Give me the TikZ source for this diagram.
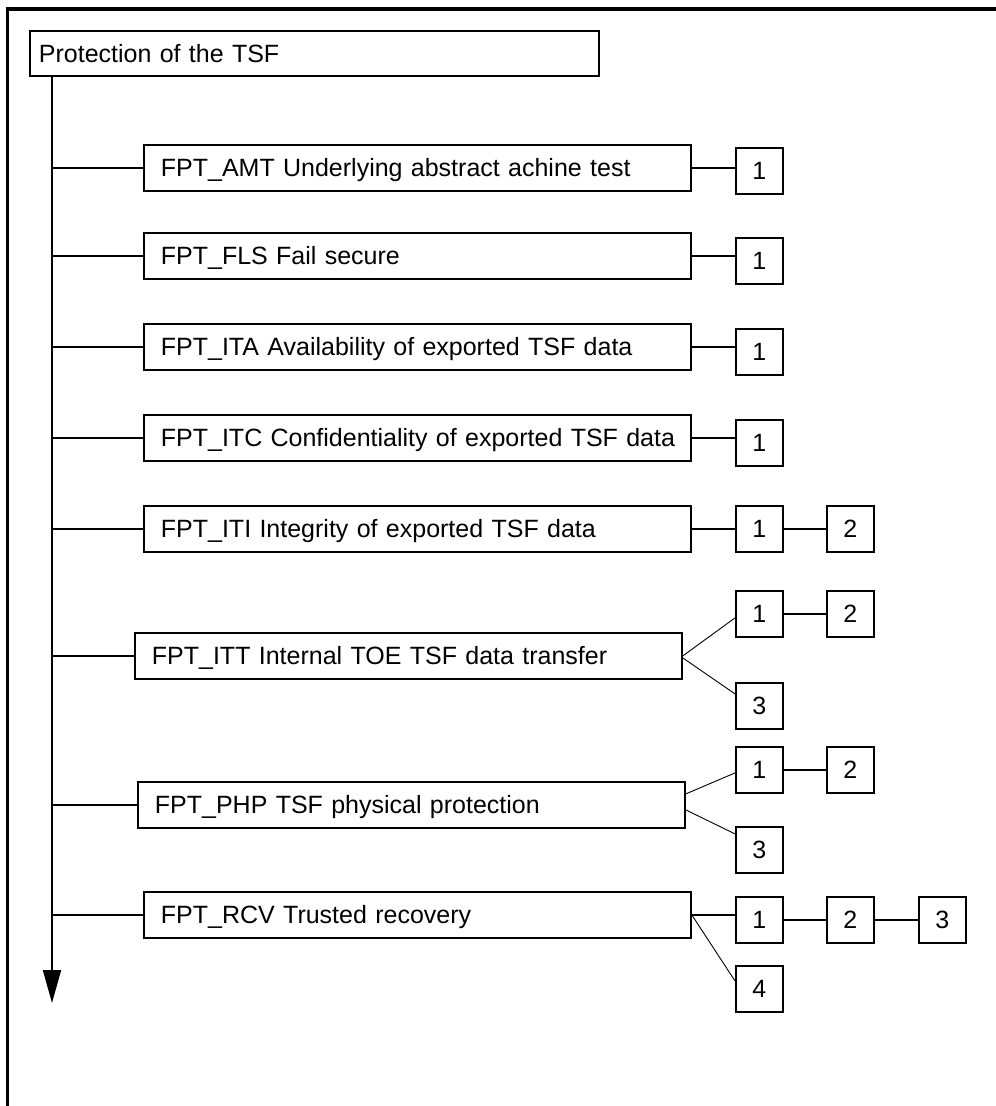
\documentclass[tikz,border=0pt]{standalone}
\usepackage{fontspec}
\setmainfont{Liberation Sans}
\usetikzlibrary{arrows.meta}

\tikzset{
	fam/.style={draw, anchor=north west, line width=1.8pt, minimum height=46pt, text height=18pt, text depth=0pt, text width=513pt, inner xsep=17pt, inner ysep=0pt, align=left},
	num/.style={draw, anchor=north west, line width=1.8pt, minimum width=47pt, minimum height=46pt, text height=18pt, text depth=0pt, inner sep=0pt},
	link/.style={line width=1.8pt},
	slant/.style={line width=0.9pt}
}

\begin{document}
\begin{tikzpicture}[x=1pt, y=-1pt, every node/.style={font=\fontsize{25}{30}\selectfont}]
	\useasboundingbox (0,0) rectangle (996,1106);
	% frame
	\draw[line width=4pt] (5.5,8.5) -- (996,8.5);
	\draw[line width=3pt] (7,6.5) -- (7,1106);
	% class and families
	\node[fam, inner xsep=9pt, text width=551pt, minimum height=45pt] (tsf) at (29,30) {Protection of the TSF};
	\coordinate (top) at (52,75);
	\coordinate (tip) at (52,1003);
	\node[fam] (amt) at (143,144) {\mbox{FPT\_AMT Underlying abstract achine test}};
	\node[fam] (fls) at (143,232) {\mbox{FPT\_FLS Fail secure}};
	\node[fam] (ita) at (143,323) {\mbox{FPT\_ITA Availability of exported TSF data}};
	\node[fam] (itc) at (143,414) {\mbox{FPT\_ITC Confidentiality of exported TSF data}};
	\node[fam] (iti) at (143,505) {\mbox{FPT\_ITI Integrity of exported TSF data}};
	\node[fam] (itt) at (134,632) {\mbox{FPT\_ITT Internal TOE TSF data transfer}};
	\node[fam] (php) at (137,781) {\mbox{FPT\_PHP TSF physical protection}};
	\node[fam] (rcv) at (143,891) {\mbox{FPT\_RCV Trusted recovery}};
	% components
	\node[num] (amt1) at (735,147) {1};
	\node[num] (fls1) at (735,237) {1};
	\node[num] (ita1) at (735,328) {1};
	\node[num] (itc1) at (735,419) {1};
	\node[num] (iti1) at (735,505) {1};
	\node[num] (iti2) at (826,505) {2};
	\node[num] (itt1) at (735,590) {1};
	\node[num] (itt2) at (826,590) {2};
	\node[num] (itt3) at (735,682) {3};
	\node[num] (php1) at (735,746) {1};
	\node[num] (php2) at (826,746) {2};
	\node[num] (php3) at (735,826) {3};
	\node[num] (rcv1) at (735,896) {1};
	\node[num] (rcv2) at (826,896) {2};
	\node[num] (rcv3) at (918,896) {3};
	\node[num] (rcv4) at (735,965) {4};
	% trunk and branches
	\draw[link, -{Triangle[length=33pt, width=18pt]}] (top) -- (tip);
	\foreach \f in {amt,fls,ita,itc,iti,itt,php,rcv}
		\draw[link] (\f.west) -- (\f.west -| top);
	\foreach \f in {amt,fls,ita,itc,iti,rcv}
		\draw[link] (\f.east) -- (\f.east -| \f1.west);
	\draw[link] (iti1.east) -- (iti2.west);
	\draw[link] (itt1.east) -- (itt2.west);
	\draw[link] (php1.east) -- (php2.west);
	\draw[link] (rcv1.east) -- (rcv2.west);
	\draw[link] (rcv2.east) -- (rcv3.west);
	\draw[slant] (itt.east) -- ([yshift=-4pt]itt1.west);
	\draw[slant] ([yshift=-2pt]itt.east) -- ([yshift=12pt]itt3.west);
	\draw[slant] ([yshift=11pt]php.east) -- ([yshift=-3pt]php1.west);
	\draw[slant] ([yshift=-5pt]php.east) -- ([yshift=16pt]php3.west);
	\draw[slant] (rcv.east) -- ([yshift=8pt]rcv4.west);
\end{tikzpicture}
\end{document}
